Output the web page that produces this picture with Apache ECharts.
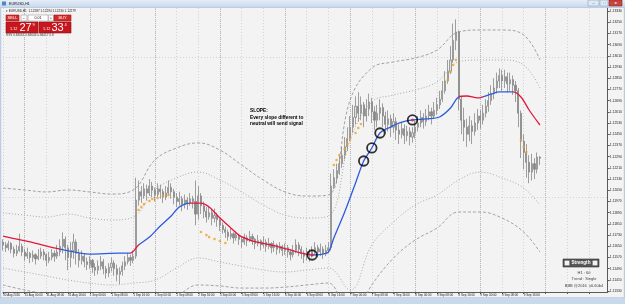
<!DOCTYPE html>
<html>
<head>
<meta charset="utf-8">
<title>EURUSD,H1</title>
<script src="https://cdn.jsdelivr.net/npm/echarts@6/dist/echarts.min.js"></script>
<style>
  html, body { margin: 0; padding: 0; background: #f3f3f3; }
  #chart { width: 625px; height: 304px; }
</style>
</head>
<body>
<div id="chart"></div>
<script>
  // H1 bars, a time label every 8 bars
  const tickLabels = ['30 Aug 2016', '31 Aug 00:00', '31 Aug 08:00', '31 Aug 16:00', '1 Sep 00:00', '1 Sep 08:00',
    '1 Sep 16:00', '2 Sep 00:00', '2 Sep 08:00', '2 Sep 16:00', '5 Sep 00:00', '5 Sep 08:00', '5 Sep 16:00',
    '6 Sep 00:00', '6 Sep 08:00', '6 Sep 16:00', '7 Sep 00:00', '7 Sep 08:00', '7 Sep 16:00', '8 Sep 00:00',
    '8 Sep 08:00', '8 Sep 16:00', '9 Sep 00:00', '9 Sep 08:00', '9 Sep 16:00'];
  const barCount = 224;
  const separatorIdx = [8, 32, 56, 80, 104, 128, 152, 176, 200];

  // price scale
  const priceMin = 1.11324;
  const priceMax = 1.13351;
  const priceTicks = [1.1333, 1.1325, 1.1317, 1.1309, 1.1301, 1.1293, 1.1285, 1.1277, 1.1269, 1.1261, 1.1253,
    1.1245, 1.1237, 1.1229, 1.1221, 1.1213, 1.1205, 1.1197, 1.1189, 1.1181, 1.1173, 1.1165, 1.1157, 1.1149,
    1.1141, 1.1133];

  // candles
  const firstOpen = 1.1168;
  const closes = [
    1.1166, 1.1164, 1.1167, 1.1163, 1.1160, 1.1162, 1.1165, 1.1161, 1.1158, 1.1160,
    1.1157, 1.1159, 1.1156, 1.1158, 1.1161, 1.1159, 1.1155, 1.1157, 1.1160, 1.1158,
    1.1161, 1.1165, 1.1170, 1.1164, 1.1157, 1.1162, 1.1168, 1.1160, 1.1155, 1.1158,
    1.1154, 1.1152, 1.1155, 1.1150, 1.1148, 1.1151, 1.1154, 1.1149, 1.1146, 1.1150,
    1.1153, 1.1149, 1.1145, 1.1147, 1.1151, 1.1154, 1.1157, 1.1155, 1.1158, 1.1198,
    1.1204, 1.1201, 1.1206, 1.1203, 1.1208, 1.1205, 1.1202, 1.1206, 1.1204, 1.1200,
    1.1203, 1.1207, 1.1204, 1.1200, 1.1197, 1.1199, 1.1195, 1.1198, 1.1196, 1.1199,
    1.1197, 1.1188, 1.1201, 1.1194, 1.1190, 1.1186, 1.1189, 1.1185, 1.1187, 1.1184,
    1.1180, 1.1177, 1.1175, 1.1172, 1.1174, 1.1171, 1.1173, 1.1170, 1.1168, 1.1171,
    1.1169, 1.1172, 1.1170, 1.1167, 1.1169, 1.1166, 1.1168, 1.1165, 1.1167, 1.1164,
    1.1166, 1.1163, 1.1165, 1.1162, 1.1164, 1.1161, 1.1159, 1.1162, 1.1166, 1.1163,
    1.1160, 1.1158, 1.1161, 1.1159, 1.1162, 1.1164, 1.1161, 1.1163, 1.1160, 1.1162,
    1.1164, 1.1208, 1.1214, 1.1219, 1.1224, 1.1230, 1.1236, 1.1242, 1.1250, 1.1257,
    1.1265, 1.1260, 1.1266, 1.1258, 1.1263, 1.1268, 1.1261, 1.1255, 1.1260, 1.1264,
    1.1258, 1.1252, 1.1256, 1.1250, 1.1254, 1.1248, 1.1245, 1.1249, 1.1244, 1.1247,
    1.1243, 1.1246, 1.1250, 1.1253, 1.1257, 1.1254, 1.1258, 1.1261, 1.1258, 1.1262,
    1.1266, 1.1270, 1.1276, 1.1283, 1.1290, 1.1298, 1.1312, 1.1318, 1.1270, 1.1255,
    1.1250, 1.1245, 1.1251, 1.1247, 1.1253, 1.1258, 1.1255, 1.1260, 1.1265, 1.1269,
    1.1274, 1.1278, 1.1283, 1.1287, 1.1283, 1.1286, 1.1281, 1.1284, 1.1280, 1.1276,
    1.1260, 1.1240, 1.1232, 1.1225, 1.1218, 1.1224, 1.1220, 1.12287, 1.12279];
  const highs = [
    1.1170, 1.1168, 1.1169, 1.1168, 1.1165, 1.1166, 1.1174, 1.1167, 1.1163, 1.1164,
    1.1161, 1.1162, 1.1160, 1.1163, 1.1164, 1.1163, 1.1160, 1.1161, 1.1163, 1.1162,
    1.1166, 1.1170, 1.1175, 1.1172, 1.1166, 1.1168, 1.1174, 1.1170, 1.1163, 1.1162,
    1.1160, 1.1157, 1.1158, 1.1156, 1.1153, 1.1155, 1.1158, 1.1156, 1.1151, 1.1153,
    1.1157, 1.1155, 1.1152, 1.1150, 1.1154, 1.1158, 1.1160, 1.1159, 1.1162, 1.1214,
    1.1212, 1.1208, 1.1210, 1.1209, 1.1213, 1.1211, 1.1207, 1.1210, 1.1209, 1.1206,
    1.1208, 1.1212, 1.1210, 1.1206, 1.1203, 1.1204, 1.1201, 1.1202, 1.1200, 1.1203,
    1.1201, 1.1212, 1.1208, 1.1203, 1.1197, 1.1193, 1.1194, 1.1191, 1.1192, 1.1189,
    1.1185, 1.1182, 1.1179, 1.1177, 1.1178, 1.1175, 1.1176, 1.1174, 1.1172, 1.1174,
    1.1173, 1.1176, 1.1174, 1.1171, 1.1173, 1.1170, 1.1172, 1.1170, 1.1171, 1.1168,
    1.1169, 1.1167, 1.1168, 1.1166, 1.1167, 1.1166, 1.1163, 1.1166, 1.1170, 1.1168,
    1.1165, 1.1162, 1.1164, 1.1163, 1.1165, 1.1168, 1.1166, 1.1167, 1.1165, 1.1166,
    1.1168, 1.1217, 1.1220, 1.1224, 1.1230, 1.1236, 1.1243, 1.1250, 1.1258, 1.1266,
    1.1272, 1.1275, 1.1272, 1.1268, 1.1270, 1.1274, 1.1271, 1.1265, 1.1266, 1.1270,
    1.1267, 1.1261, 1.1262, 1.1259, 1.1260, 1.1257, 1.1252, 1.1254, 1.1252, 1.1251,
    1.1250, 1.1250, 1.1255, 1.1258, 1.1262, 1.1260, 1.1263, 1.1266, 1.1264, 1.1268,
    1.1271, 1.1276, 1.1283, 1.1290, 1.1298, 1.1308, 1.1324, 1.1327, 1.1319, 1.1272,
    1.1264, 1.1256, 1.1258, 1.1255, 1.1260, 1.1263, 1.1262, 1.1266, 1.1270, 1.1275,
    1.1280, 1.1285, 1.1289, 1.1292, 1.1291, 1.1291, 1.1289, 1.1289, 1.1287, 1.1283,
    1.1278, 1.1262, 1.1245, 1.1238, 1.1230, 1.1231, 1.1228, 1.1232, 1.12294];
  const lows = [
    1.1162, 1.1161, 1.1162, 1.1160, 1.1157, 1.1158, 1.1161, 1.1158, 1.1155, 1.1156,
    1.1153, 1.1154, 1.1152, 1.1155, 1.1156, 1.1155, 1.1151, 1.1153, 1.1155, 1.1154,
    1.1156, 1.1158, 1.1160, 1.1155, 1.1148, 1.1150, 1.1156, 1.1152, 1.1150, 1.1152,
    1.1150, 1.1148, 1.1149, 1.1146, 1.1144, 1.1145, 1.1148, 1.1145, 1.1142, 1.1143,
    1.1147, 1.1144, 1.1140, 1.1138, 1.1144, 1.1148, 1.1152, 1.1151, 1.1153, 1.1156,
    1.1194, 1.1196, 1.1199, 1.1198, 1.1201, 1.1200, 1.1197, 1.1200, 1.1199, 1.1196,
    1.1198, 1.1201, 1.1199, 1.1195, 1.1193, 1.1194, 1.1190, 1.1192, 1.1191, 1.1194,
    1.1192, 1.1180, 1.1184, 1.1188, 1.1185, 1.1182, 1.1184, 1.1180, 1.1182, 1.1179,
    1.1176, 1.1174, 1.1171, 1.1169, 1.1170, 1.1167, 1.1169, 1.1166, 1.1164, 1.1166,
    1.1165, 1.1168, 1.1166, 1.1163, 1.1165, 1.1162, 1.1164, 1.1161, 1.1163, 1.1160,
    1.1161, 1.1159, 1.1160, 1.1158, 1.1159, 1.1157, 1.1155, 1.1157, 1.1160, 1.1158,
    1.1156, 1.1153, 1.1155, 1.1154, 1.1157, 1.1159, 1.1157, 1.1158, 1.1156, 1.1158,
    1.1160, 1.1162, 1.1206, 1.1210, 1.1216, 1.1221, 1.1227, 1.1233, 1.1240, 1.1246,
    1.1252, 1.1254, 1.1255, 1.1250, 1.1254, 1.1258, 1.1253, 1.1248, 1.1250, 1.1255,
    1.1250, 1.1245, 1.1247, 1.1243, 1.1246, 1.1241, 1.1238, 1.1242, 1.1238, 1.1240,
    1.1237, 1.1239, 1.1242, 1.1247, 1.1250, 1.1249, 1.1251, 1.1255, 1.1252, 1.1256,
    1.1259, 1.1263, 1.1268, 1.1274, 1.1281, 1.1288, 1.1296, 1.1305, 1.1262, 1.1245,
    1.1240, 1.1236, 1.1240, 1.1238, 1.1244, 1.1248, 1.1249, 1.1252, 1.1257, 1.1261,
    1.1266, 1.1270, 1.1274, 1.1278, 1.1276, 1.1278, 1.1275, 1.1276, 1.1273, 1.1268,
    1.1250, 1.1228, 1.1220, 1.1214, 1.1210, 1.1212, 1.1213, 1.1217, 1.12230];
  const ask = 1.12334;

  // envelope bands, every 8 bars
  const bandIdx = [0, 8, 16, 24, 32, 40, 48, 56, 64, 72, 80, 88, 96, 104, 112, 120, 128, 136, 144, 152, 160, 168,
    176, 184, 192, 198];
  const upperOuter = [1.12066, 1.12052, 1.12038, 1.12052, 1.12038, 1.12023, 1.12052, 1.12266, 1.12352, 1.12388,
    1.12337, 1.12230, 1.12123, 1.12038, 1.12009, 1.12016, 1.12694, 1.12923, 1.12966, 1.12994, 1.13051, 1.13180,
    1.13194, 1.13194, 1.13159, 1.12980];
  const upperInner = [1.11888, 1.11873, 1.11859, 1.11880, 1.11852, 1.11838, 1.11859, 1.12052, 1.12138, 1.12180,
    1.12123, 1.12038, 1.11945, 1.11873, 1.11852, 1.11866, 1.12409, 1.12680, 1.12730, 1.12766, 1.12823, 1.12966,
    1.12980, 1.12980, 1.12944, 1.12780];
  const lowerInner = [1.11495, 1.11467, 1.11438, 1.11409, 1.11388, 1.11374, 1.11388, 1.11409, 1.11495, 1.11566,
    1.11538, 1.11509, 1.11481, 1.11467, 1.11481, 1.11495, 1.11338, 1.11659, 1.11823, 1.11945, 1.12016, 1.12123,
    1.12180, 1.12138, 1.12066, 1.11945];
  const lowerOuter = [1.11374, 1.11338, 1.11309, 1.11281, 1.11266, 1.11252, 1.11266, 1.11231, 1.11295, 1.11374,
    1.11367, 1.11352, 1.11352, 1.11359, 1.11374, 1.11388, 1.11124, 1.11374, 1.11566, 1.11695, 1.11780, 1.11895,
    1.11895, 1.11852, 1.11752, 1.11609];

  // slope line
  const maIdx = [0, 10, 21, 32, 43, 47, 50, 54, 58, 62, 65, 69, 73, 76, 80, 84, 87, 91, 95, 99, 102, 106, 110, 114,
    118, 120, 122, 126, 130, 133, 136, 139, 143, 146, 151, 156, 161, 165, 168, 171, 175, 180, 183, 188, 191, 194, 198];
  const maVal = [1.11723, 1.11681, 1.11630, 1.11595, 1.11602, 1.11602, 1.11659, 1.11716, 1.11795, 1.11866,
    1.11931, 1.11959, 1.11959, 1.11931, 1.11852, 1.11781, 1.11730, 1.11695, 1.11674, 1.11659,
    1.11645, 1.11624, 1.11602, 1.11588, 1.11595, 1.11609, 1.11709, 1.11895, 1.12102, 1.12259,
    1.12352, 1.12459, 1.12502, 1.12530, 1.12552, 1.12559, 1.12573, 1.12637, 1.12716, 1.12723,
    1.12709, 1.12737, 1.12752, 1.12752, 1.12716, 1.12623, 1.12516];
  const slopeStart = [0, 21, 47, 50, 69, 114, 168, 177, 188];
  const slopeDir = ['down', 'up', 'down', 'up', 'down', 'up', 'down', 'up', 'down'];

  // strength dots
  const dotIdx = [50, 51, 52, 54, 55, 57, 59, 61, 73, 75, 76, 78, 80, 82, 122, 123, 124, 126, 127, 128, 130, 131,
    132, 164, 165, 166, 167, 191, 192, 193];
  const dotVal = [1.11909, 1.11931, 1.11952, 1.11973, 1.11988, 1.11995, 1.12009, 1.12016, 1.11752, 1.11730,
    1.11716, 1.11702, 1.11688, 1.11674, 1.12230, 1.12266, 1.12302, 1.12345, 1.12381, 1.12416, 1.12459, 1.12495,
    1.12523, 1.12837, 1.12894, 1.12944, 1.12980, 1.12409, 1.12359, 1.12323];

  // hand drawn circles
  const circleIdx = [114, 133, 136, 139, 151];
  const circleVal = [1.11588, 1.12259, 1.12352, 1.12459, 1.12552];
  const signalCircles = [0, 4];

  const red = '#e3173c';
  const blue = '#2d5bdc';
  const font = 'Liberation Sans, Arial, sans-serif';

  const categories = [];
  for (let i = 0; i < barCount; i++) categories.push(String(i));
  const opens = closes.map((c, i) => i === 0 ? firstOpen : closes[i - 1]);
  const candles = closes.map((c, i) => [opens[i], c, lows[i], highs[i]]);
  const pairs = (idx, vals) => idx.map((x, k) => [x, vals[k]]);
  const last = closes.length - 1;
  const bid = closes[last];

  const pieces = slopeStart.map((s, k) => ({
    gte: s,
    lt: k + 1 < slopeStart.length ? slopeStart[k + 1] : barCount,
    color: slopeDir[k] === 'up' ? blue : red
  }));

  function bandSeries(vals, dash, color) {
    return {
      type: 'line', data: pairs(bandIdx, vals), smooth: 0.4, symbol: 'none', silent: true, z: 2,
      lineStyle: {color: color, width: 1, type: dash}
    };
  }

  function priceParts(v) {
    let s = v.toFixed(5);
    return [s.slice(0, 4), s.slice(4, 6), s.slice(6)];
  }

  let bidParts = priceParts(bid);
  let askParts = priceParts(ask);
  let header = 'EURUSD,H1  ' + [opens[last], highs[last], lows[last], closes[last]].map(v => v.toFixed(5)).join(' ');

  function txt(text, x, y, size, color, extra) {
    return {
      type: 'text', z: 101,
      style: Object.assign({
        text: text, x: x, y: y, fill: color, fontSize: size, fontFamily: font,
        textVerticalAlign: 'middle'
      }, extra || {})
    };
  }

  function box(x, y, w, h, fill, stroke) {
    return {type: 'rect', z: 100, shape: {x: x, y: y, width: w, height: h}, style: {fill: fill, stroke: stroke || null, lineWidth: 0.6}};
  }

  let chart = echarts.init(document.getElementById('chart'));
  chart.setOption({
    animation: false,
    backgroundColor: '#f3f3f3',
    textStyle: {fontFamily: font},
    grid: {left: 3, right: 17, top: 8, bottom: 12},
    xAxis: {
      type: 'category', data: categories, boundaryGap: false,
      axisLine: {lineStyle: {color: '#5a5a5a', width: 1}},
      axisTick: {interval: 7, length: 2, lineStyle: {color: '#5a5a5a'}},
      axisLabel: {
        interval: 7, fontSize: 3, color: '#222', align: 'left', margin: 1.5,
        formatter: (v, i) => tickLabels[i / 8] || ''
      },
      splitLine: {show: true, interval: 7, lineStyle: {color: '#d3d3d3', type: [1, 2]}}
    },
    yAxis: {
      type: 'value', position: 'right', min: priceMin, max: priceMax,
      axisLine: {show: true, lineStyle: {color: '#5a5a5a'}},
      axisTick: {show: true, length: 2, customValues: priceTicks, lineStyle: {color: '#5a5a5a'}},
      axisLabel: {customValues: priceTicks, fontSize: 3.4, color: '#222', margin: 2, formatter: v => v.toFixed(5)},
      splitLine: {show: false}
    },
    visualMap: [{type: 'piecewise', show: false, dimension: 0, seriesIndex: 6, pieces: pieces}],
    series: [
      // horizontal grid + day separators
      {
        type: 'line', data: [], silent: true,
        markLine: {
          silent: true, symbol: 'none', z: 1, label: {show: false},
          data: priceTicks.map(v => ({yAxis: v, lineStyle: {color: '#d3d3d3', type: [1, 2], width: 1}}))
            .concat(separatorIdx.map(i => ({xAxis: i, lineStyle: {color: '#bcbcbc', type: [1, 1], width: 1}})))
        }
      },
      {
        type: 'candlestick', data: candles, barWidth: 1.6, z: 3, silent: true,
        itemStyle: {color: '#e2e2e2', color0: '#888888', borderColor: '#888888', borderColor0: '#888888', borderWidth: 0.8},
        markLine: {
          silent: true, symbol: 'none', z: 20,
          lineStyle: {opacity: 0},
          label: {
            show: true, position: 'end', distance: 1, fontSize: 3.4, color: '#fff', backgroundColor: '#3b3b3b',
            padding: [1, 1.5], formatter: p => p.value.toFixed(5)
          },
          data: [{yAxis: bid}]
        }
      },
      bandSeries(upperOuter, [3, 2], '#a2a2a2'),
      bandSeries(upperInner, [1, 2], '#a8a8a8'),
      bandSeries(lowerInner, [1, 2], '#a8a8a8'),
      bandSeries(lowerOuter, [3, 2], '#a2a2a2'),
      {
        type: 'line', data: pairs(maIdx, maVal), smooth: 0.3, symbol: 'none', silent: true, z: 5,
        lineStyle: {width: 1.3}
      },
      {
        type: 'scatter', data: pairs(dotIdx, dotVal), symbolSize: 2.6, silent: true, z: 6,
        itemStyle: {color: '#f5a01e'}
      },
      {
        type: 'scatter', data: pairs(circleIdx, circleVal), symbolSize: 9.5, silent: true, z: 7,
        itemStyle: {color: 'rgba(255,255,255,0)', borderColor: '#000', borderWidth: 1.8}
      },
      {
        type: 'scatter', data: signalCircles.map(k => [circleIdx[k], circleVal[k]]), symbolSize: 3, silent: true, z: 8,
        itemStyle: {color: red}
      }
    ],
    graphic: [
      // window frame
      {type: 'rect', z: 100, shape: {x: 0, y: 0, width: 625, height: 7.5},
        style: {fill: new echarts.graphic.LinearGradient(0, 0, 0, 1, [{offset: 0, color: '#e6eef8'}, {offset: 1, color: '#c6d8ec'}])}},
      box(0, 7.5, 625, 0.6, '#9fb6d2'),
      box(2, 1.5, 4, 4, '#4f86c6'),
      txt('EURUSD,H1', 9, 4, 3.6, '#111'),
      box(588, 0, 11, 6, '#dfe9f4', '#8aa4c4'),
      box(600, 0, 8, 6, '#dfe9f4', '#8aa4c4'),
      box(609, 0, 13, 6, '#c8463f', '#8c2a25'),
      txt('–', 593.5, 3, 4, '#333', {textAlign: 'center'}),
      txt('□', 604, 3, 3.5, '#333', {textAlign: 'center'}),
      txt('x', 615.5, 3, 4, '#fff', {textAlign: 'center', fontWeight: 'bold'}),
      box(0, 298, 625, 6, '#c9d9ec'),
      box(0, 297.5, 625, 0.6, '#9fb6d2'),
      box(0, 7.5, 1.2, 291, '#b8cce3'),
      box(623.8, 7.5, 1.2, 291, '#b8cce3'),
      // symbol line and one click trading panel
      txt('▾ ' + header, 6, 11.5, 3.1, '#222'),
      box(6, 15, 13, 6, '#d42a2a', '#a01818'),
      txt('SELL', 12.5, 18, 4, '#fff', {textAlign: 'center'}),
      box(21, 15, 6, 6, '#fafafa', '#a0a0a0'),
      txt('-', 24, 18, 4, '#333', {textAlign: 'center'}),
      box(28, 15, 20, 6, '#ffffff', '#a0a0a0'),
      txt('0.01', 38, 18, 3.6, '#222', {textAlign: 'center'}),
      box(48.5, 15, 5, 6, '#fafafa', '#a0a0a0'),
      txt('+', 51, 18, 4, '#333', {textAlign: 'center'}),
      box(54, 15, 17, 6, '#d42a2a', '#a01818'),
      txt('BUY', 62.5, 18, 4, '#fff', {textAlign: 'center'}),
      box(6, 22, 32, 11, '#c8161e', '#8e0d12'),
      box(39, 22, 32, 11, '#c8161e', '#8e0d12'),
      txt(bidParts[0], 10, 29, 3.8, '#fff'),
      txt(bidParts[1], 19.5, 27.8, 11, '#fff'),
      txt(bidParts[2], 32.5, 25, 4, '#fff'),
      txt(askParts[0], 43, 29, 3.8, '#fff'),
      txt(askParts[1], 51.5, 27.8, 11, '#fff'),
      txt(askParts[2], 64.5, 25, 4, '#fff'),
      txt('RSV 0.84061 0.84644 0.84417 0.8', 6, 35, 3.1, '#333'),
      // annotation
      txt('SLOPE:\nEvery slope different to\nneutral will send signal', 250, 117.5, 4.8, '#000',
        {fontWeight: 'bold', lineHeight: 6.5}),
      // strength panel
      box(563, 259, 36, 8, '#585858', '#333'),
      box(564.2, 260.2, 5.6, 5.6, '#f2f2f2', '#333'),
      box(592.2, 260.2, 5.6, 5.6, '#f2f2f2', '#333'),
      txt('Strength', 581, 263, 4.6, '#fff', {textAlign: 'center', fontWeight: 'bold'}),
      txt('H1 : 60', 584, 273, 4, '#444', {textAlign: 'center'}),
      txt('Trend : Single', 584, 279.3, 4, '#444', {textAlign: 'center'}),
      txt('BBB @2016  v6.60b4', 584, 285.6, 4, '#444', {textAlign: 'center'})
    ]
  });
</script>
</body>
</html>
